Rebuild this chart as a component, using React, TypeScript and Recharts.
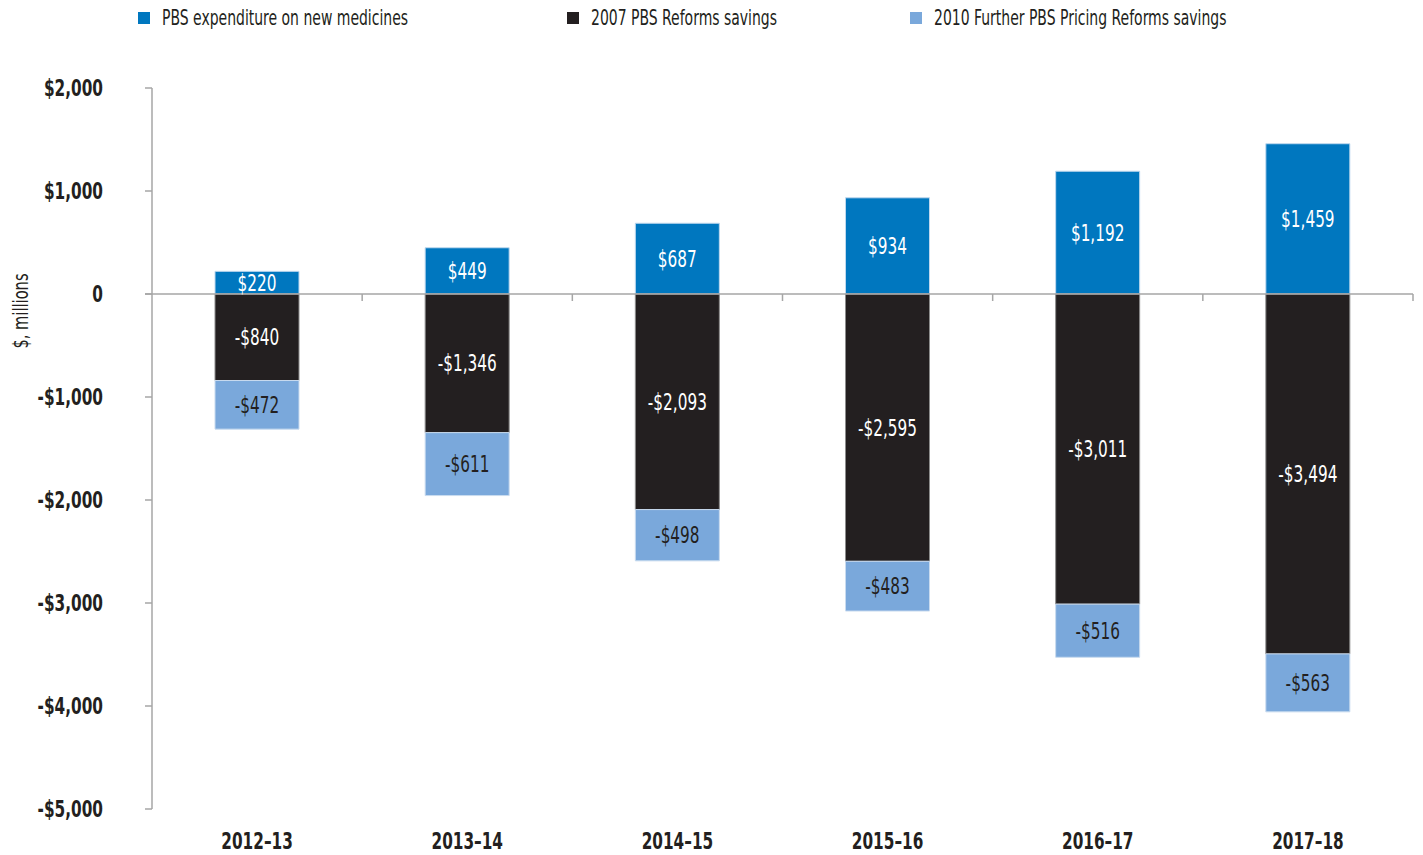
import { BarChart, Bar, XAxis, YAxis, ReferenceLine, LabelList } from "recharts"

const years = ["2012–13", "2013–14", "2014–15", "2015–16", "2016–17", "2017–18"]
const newMedicines = [220, 449, 687, 934, 1192, 1459]
const reforms2007 = [-840, -1346, -2093, -2595, -3011, -3494]
const reforms2010 = [-472, -611, -498, -483, -516, -563]
const yTicks = [-5000, -4000, -3000, -2000, -1000, 0, 1000, 2000]

const data = years.map((year, i) => ({
  year,
  newMedicines: newMedicines[i],
  reforms2007: reforms2007[i],
  reforms2010: reforms2010[i],
}))

const FONT = '"DejaVu Sans Condensed", "Liberation Sans Narrow", sans-serif'
const TEXT = "#231F20"
const BLUE = "#0077BF"
const BLACK = "#231F20"
const LIGHT = "#7AA8DB"
const AXIS = "#A6A6A6"
const SQUEEZE = 0.74

const legendItems = [
  { name: "PBS expenditure on new medicines", color: BLUE, left: 138 },
  { name: "2007 PBS Reforms savings", color: BLACK, left: 567 },
  { name: "2010 Further PBS Pricing Reforms savings", color: LIGHT, left: 910 },
]

function money(v: number): string {
  if (v === 0) return "0"
  const s = "$" + Math.abs(v).toLocaleString("en-US")
  return v < 0 ? "-" + s : s
}

// condensed text: the sandbox has no narrow face, so squeeze horizontally
function Narrow({ x, y, anchor, size, weight, fill, children }: any) {
  return (
    <g transform={`translate(${x},${y})`}>
      <text
        transform={`scale(${SQUEEZE},1)`}
        textAnchor={anchor}
        dominantBaseline="central"
        fontFamily={FONT}
        fontSize={size}
        fontWeight={weight}
        fill={fill}
      >
        {children}
      </text>
    </g>
  )
}

function YTick({ x, y, payload }: any) {
  return <Narrow x={x} y={y} anchor="end" size={23} weight={700} fill={TEXT}>{money(payload.value)}</Narrow>
}

function XTick({ x, y, payload }: any) {
  return <Narrow x={x} y={y + 12} anchor="middle" size={23} weight={700} fill={TEXT}>{payload.value}</Narrow>
}

function barLabel(color: string) {
  return (props: any) => {
    const { x, y, width, height, value } = props
    return (
      <Narrow x={x + width / 2} y={y + height / 2} anchor="middle" size={23} weight={400} fill={color}>
        {money(Number(value))}
      </Narrow>
    )
  }
}

// zero line with small category dividers hanging below it
function ZeroLine(props: any) {
  const { x1, x2, y1 } = props
  const step = (x2 - x1) / years.length
  return (
    <g>
      <line x1={x1 - 7} x2={x2} y1={y1} y2={y1} stroke={AXIS} strokeWidth={1.5} />
      {years.map((_, i) => (
        <line key={i} x1={x1 + step * (i + 1)} x2={x1 + step * (i + 1)} y1={y1} y2={y1 + 7} stroke={AXIS} strokeWidth={1.5} />
      ))}
    </g>
  )
}

export default function App() {
  return (
    <div style={{ position: "absolute", left: 0, top: 0, width: 1423, height: 855, background: "#fff", fontFamily: FONT, color: TEXT }}>
      {legendItems.map((item) => (
        <div key={item.name} style={{ position: "absolute", left: item.left, top: 12, height: 12, display: "flex", alignItems: "center" }}>
          <span style={{ width: 12, height: 12, background: item.color, display: "inline-block", marginRight: 12 }} />
          <span style={{ fontSize: 21, whiteSpace: "nowrap", transform: `scaleX(${SQUEEZE})`, transformOrigin: "left center", display: "inline-block" }}>
            {item.name}
          </span>
        </div>
      ))}
      <div
        style={{
          position: "absolute",
          left: 20,
          top: 311,
          fontSize: 22,
          whiteSpace: "nowrap",
          transform: `translate(-50%, -50%) rotate(-90deg) scaleX(${SQUEEZE})`,
        }}
      >
        $, millions
      </div>
      <BarChart
        width={1423}
        height={855}
        data={data}
        stackOffset="sign"
        margin={{ top: 88, right: 10, bottom: 6, left: 0 }}
        style={{ position: "absolute", left: 0, top: 0 }}
      >
        <XAxis dataKey="year" axisLine={false} tickLine={false} tickSize={0} tickMargin={20} height={40} tick={<XTick />} />
        <YAxis
          domain={[-5000, 2000]}
          ticks={yTicks}
          width={152}
          tickSize={7}
          tickMargin={42}
          axisLine={{ stroke: AXIS, strokeWidth: 1.5 }}
          tickLine={{ stroke: AXIS, strokeWidth: 1.5 }}
          tick={<YTick />}
        />
        <ReferenceLine y={0} shape={<ZeroLine />} />
        <Bar dataKey="newMedicines" stackId="a" fill={BLUE} barSize={84} stroke="#BFD8EE" strokeWidth={1} isAnimationActive={false}>
          <LabelList dataKey="newMedicines" content={barLabel("#fff")} />
        </Bar>
        <Bar dataKey="reforms2007" stackId="a" fill={BLACK} barSize={84} stroke="#8C8C8C" strokeWidth={1} isAnimationActive={false}>
          <LabelList dataKey="reforms2007" content={barLabel("#fff")} />
        </Bar>
        <Bar dataKey="reforms2010" stackId="a" fill={LIGHT} barSize={84} stroke="#C9DBEF" strokeWidth={1} isAnimationActive={false}>
          <LabelList dataKey="reforms2010" content={barLabel(TEXT)} />
        </Bar>
      </BarChart>
    </div>
  )
}
